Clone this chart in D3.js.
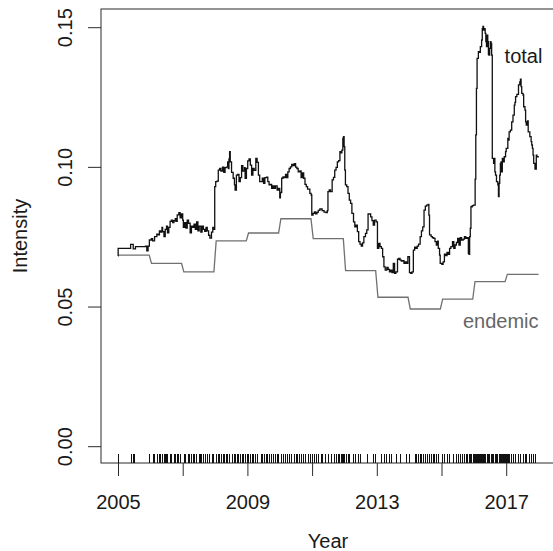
<!DOCTYPE html>
<html lang="en">
<head>
    <meta charset="UTF-8">
    <title>Intensity</title>
    <script src="https://d3js.org/d3.v7.min.js" charset="utf-8"></script>
    <style>
        body {
            margin: 0;
            background: white;
        }
        text {
            font-family: "Liberation Sans", Arial, sans-serif;
            font-size: 20px;
            fill: #1a1a1a;
        }
    </style>
</head>
<body>
<script>
    // total intensity: [year, intensity]
    var totalSeries = [
        [2005.00,0.0683],[2005.005,0.0710],[2005.38,0.0710],[2005.39,0.0724],[2005.45,0.0724],[2005.47,0.0708],
        [2005.54,0.0716],[2005.85,0.0718],[2005.89,0.0701],[2005.93,0.0718],[2005.97,0.0740],[2006.03,0.0745],
        [2006.07,0.0737],[2006.13,0.0752],[2006.20,0.0761],[2006.24,0.0758],[2006.28,0.0773],[2006.32,0.0768],
        [2006.36,0.0785],[2006.38,0.0770],[2006.42,0.0752],[2006.46,0.0778],[2006.50,0.0790],[2006.53,0.0766],
        [2006.57,0.0785],[2006.61,0.0807],[2006.65,0.0811],[2006.69,0.0802],[2006.73,0.0809],[2006.77,0.0816],
        [2006.79,0.0807],[2006.83,0.0830],[2006.88,0.0838],[2006.92,0.0819],[2006.96,0.0833],[2007.00,0.0811],
        [2007.02,0.0785],[2007.06,0.0802],[2007.10,0.0783],[2007.14,0.0811],[2007.18,0.0800],[2007.23,0.0766],
        [2007.27,0.0790],[2007.31,0.0785],[2007.35,0.0797],[2007.39,0.0778],[2007.43,0.0805],[2007.47,0.0773],
        [2007.51,0.0790],[2007.56,0.0768],[2007.60,0.0790],[2007.64,0.0778],[2007.68,0.0771],[2007.72,0.0785],
        [2007.76,0.0773],[2007.80,0.0757],[2007.84,0.0747],[2007.89,0.0768],[2007.93,0.0785],[2007.97,0.0778],
        [2007.99,0.0931],[2008.02,0.0949],[2008.06,0.0951],[2008.10,0.0990],[2008.14,0.0996],[2008.18,0.0987],
        [2008.23,0.1001],[2008.27,0.0982],[2008.31,0.0999],[2008.35,0.1001],[2008.39,0.1020],[2008.41,0.0996],
        [2008.43,0.1030],[2008.45,0.1056],[2008.47,0.1020],[2008.51,0.0982],[2008.56,0.0961],[2008.60,0.0937],
        [2008.62,0.0919],[2008.66,0.0972],[2008.70,0.0975],[2008.74,0.0949],[2008.78,0.0963],[2008.82,0.1006],
        [2008.86,0.0987],[2008.91,0.0999],[2008.93,0.0961],[2008.97,0.0996],[2009.01,0.1023],[2009.05,0.1030],
        [2009.09,0.1008],[2009.13,0.0972],[2009.17,0.0996],[2009.21,0.0989],[2009.26,0.1032],[2009.30,0.1018],
        [2009.34,0.0972],[2009.38,0.0949],[2009.42,0.0949],[2009.46,0.0961],[2009.50,0.0943],[2009.54,0.0963],
        [2009.59,0.0965],[2009.63,0.0949],[2009.67,0.0937],[2009.71,0.0939],[2009.75,0.0925],[2009.79,0.0934],
        [2009.83,0.0925],[2009.87,0.0934],[2009.92,0.0919],[2009.96,0.0925],[2010.00,0.0891],[2010.02,0.0910],
        [2010.06,0.0961],[2010.10,0.0966],[2010.14,0.0963],[2010.18,0.0975],[2010.22,0.0963],[2010.25,0.0984],
        [2010.29,0.0996],[2010.33,0.1002],[2010.37,0.1011],[2010.41,0.1006],[2010.45,0.1013],[2010.49,0.1001],
        [2010.53,0.0996],[2010.57,0.0984],[2010.62,0.0987],[2010.66,0.0963],[2010.70,0.0980],[2010.74,0.0961],
        [2010.78,0.0939],[2010.82,0.0931],[2010.86,0.0922],[2010.93,0.0907],[2010.97,0.0901],[2010.99,0.0829],
        [2011.03,0.0835],[2011.07,0.0841],[2011.11,0.0834],[2011.15,0.0839],[2011.19,0.0846],[2011.24,0.0851],
        [2011.31,0.0845],[2011.37,0.0840],[2011.43,0.0838],[2011.47,0.0845],[2011.49,0.0913],[2011.53,0.0919],
        [2011.57,0.0913],[2011.62,0.0955],[2011.66,0.0964],[2011.70,0.0990],[2011.74,0.1000],[2011.78,0.1020],
        [2011.82,0.1024],[2011.86,0.1056],[2011.90,0.1052],[2011.92,0.1062],[2011.95,0.1104],[2011.97,0.1110],
        [2011.99,0.1074],[2012.01,0.0990],[2012.03,0.0937],[2012.07,0.0931],[2012.11,0.0907],[2012.15,0.0883],
        [2012.19,0.0871],[2012.23,0.0835],[2012.28,0.0805],[2012.32,0.0787],[2012.36,0.0793],[2012.40,0.0770],
        [2012.44,0.0734],[2012.48,0.0725],[2012.52,0.0718],[2012.56,0.0730],[2012.60,0.0752],[2012.65,0.0764],
        [2012.69,0.0776],[2012.73,0.0833],[2012.77,0.0833],[2012.81,0.0823],[2012.85,0.0809],[2012.89,0.0793],
        [2012.93,0.0811],[2012.98,0.0805],[2013.02,0.0710],[2013.06,0.0728],[2013.10,0.0716],[2013.14,0.0710],
        [2013.18,0.0680],[2013.22,0.0644],[2013.26,0.0632],[2013.31,0.0642],[2013.35,0.0635],[2013.39,0.0626],
        [2013.43,0.0632],[2013.47,0.0623],[2013.51,0.0656],[2013.55,0.0621],[2013.59,0.0626],[2013.64,0.0671],
        [2013.68,0.0674],[2013.72,0.0668],[2013.76,0.0664],[2013.80,0.0666],[2013.84,0.0656],[2013.88,0.0662],
        [2013.92,0.0656],[2013.96,0.0680],[2014.01,0.0623],[2014.05,0.0621],[2014.09,0.0626],[2014.13,0.0704],
        [2014.17,0.0714],[2014.21,0.0710],[2014.25,0.0718],[2014.29,0.0725],[2014.34,0.0752],[2014.38,0.0773],
        [2014.42,0.0787],[2014.46,0.0847],[2014.50,0.0861],[2014.54,0.0865],[2014.59,0.0867],[2014.61,0.0829],
        [2014.63,0.0758],[2014.68,0.0752],[2014.72,0.0748],[2014.76,0.0746],[2014.80,0.0734],[2014.84,0.0722],
        [2014.88,0.0736],[2014.90,0.0710],[2014.94,0.0686],[2014.96,0.0656],[2015.01,0.0653],[2015.05,0.0662],
        [2015.09,0.0689],[2015.13,0.0684],[2015.17,0.0696],[2015.21,0.0689],[2015.25,0.0710],[2015.29,0.0716],
        [2015.34,0.0734],[2015.38,0.0710],[2015.42,0.0722],[2015.46,0.0731],[2015.50,0.0746],[2015.54,0.0722],
        [2015.58,0.0748],[2015.62,0.0740],[2015.67,0.0743],[2015.71,0.0752],[2015.75,0.0746],[2015.79,0.0748],
        [2015.83,0.0692],[2015.85,0.0689],[2015.87,0.0752],[2015.89,0.0782],[2015.91,0.0859],[2015.95,0.0863],
        [2015.99,0.0865],[2016.04,0.0958],[2016.06,0.1116],[2016.08,0.1283],[2016.10,0.1390],[2016.14,0.1414],
        [2016.18,0.1412],[2016.20,0.1432],[2016.24,0.1456],[2016.26,0.1497],[2016.28,0.1505],[2016.30,0.1491],
        [2016.32,0.1497],[2016.35,0.1480],[2016.37,0.1450],[2016.39,0.1432],[2016.41,0.1473],[2016.43,0.1450],
        [2016.45,0.1404],[2016.47,0.1402],[2016.49,0.1426],[2016.51,0.1450],[2016.53,0.1444],[2016.55,0.1402],
        [2016.57,0.1032],[2016.61,0.1014],[2016.63,0.1032],[2016.65,0.0984],[2016.67,0.0972],[2016.70,0.0949],
        [2016.74,0.0937],[2016.76,0.0895],[2016.78,0.0943],[2016.80,0.0972],[2016.82,0.1014],[2016.84,0.1020],
        [2016.86,0.0984],[2016.88,0.1032],[2016.92,0.1020],[2016.94,0.1038],[2016.98,0.1056],[2017.00,0.1068],
        [2017.05,0.1104],[2017.07,0.1098],[2017.09,0.1127],[2017.13,0.1133],[2017.17,0.1163],[2017.21,0.1187],
        [2017.25,0.1223],[2017.27,0.1233],[2017.29,0.1253],[2017.33,0.1261],[2017.38,0.1295],[2017.42,0.1306],
        [2017.44,0.1316],[2017.46,0.1289],[2017.48,0.1265],[2017.52,0.1259],[2017.54,0.1217],[2017.58,0.1205],
        [2017.60,0.1163],[2017.62,0.1151],[2017.66,0.1166],[2017.68,0.1127],[2017.73,0.1110],[2017.77,0.1092],
        [2017.79,0.1080],[2017.81,0.1068],[2017.83,0.1044],[2017.85,0.1014],[2017.89,0.0994],[2017.93,0.1044],
        [2017.95,0.1038],[2017.99,0.1041]
    ];

    // endemic (background) level, one value per year
    var endemicYears = [2005, 2006, 2007, 2008, 2009, 2010, 2011, 2012, 2013, 2014, 2015, 2016, 2017];
    var endemicValues = [0.0686, 0.0656, 0.0626, 0.0737, 0.0765, 0.0816, 0.0745, 0.0630, 0.0535, 0.0493, 0.0528, 0.0591, 0.0617];

    // event times shown as a rug along the bottom
    var eventTimes = [
        2005.00,2005.41,2005.46,2005.51,2005.97,2006.07,2006.11,2006.21,2006.26,2006.31,2006.36,2006.41,2006.44,
        2006.49,2006.53,2006.61,2006.65,2006.72,2006.77,2006.81,2006.87,2006.93,2007.03,2007.08,2007.15,2007.20,
        2007.26,2007.31,2007.36,2007.42,2007.49,2007.54,2007.58,2007.64,2007.69,2007.74,2007.81,2007.90,2007.95,
        2008.03,2008.08,2008.13,2008.19,2008.24,2008.28,2008.33,2008.38,2008.43,2008.53,2008.58,2008.62,2008.67,
        2008.72,2008.77,2008.82,2008.86,2008.92,2008.98,2009.02,2009.07,2009.13,2009.18,2009.25,2009.31,2009.41,
        2009.46,2009.51,2009.56,2009.61,2009.68,2009.73,2009.78,2009.86,2009.92,2009.96,2010.03,2010.11,2010.17,
        2010.22,2010.28,2010.36,2010.44,2010.49,2010.54,2010.60,2010.66,2010.72,2010.79,2010.88,2010.93,2010.99,
        2011.05,2011.12,2011.19,2011.26,2011.32,2011.39,2011.50,2011.58,2011.67,2011.75,2011.79,2011.83,2011.88,
        2011.92,2011.96,2012.00,2012.05,2012.10,2012.14,2012.25,2012.32,2012.42,2012.49,2012.70,2012.88,2012.95,
        2013.14,2013.21,2013.29,2013.38,2013.45,2013.58,2013.73,2013.89,2014.01,2014.17,2014.22,2014.27,2014.32,
        2014.37,2014.42,2014.49,2014.55,2014.61,2014.67,2014.73,2014.78,2014.84,2014.90,2015.02,2015.09,2015.16,
        2015.23,2015.37,2015.45,2015.51,2015.58,2015.64,2015.71,2015.76,2015.80,2015.84,2015.88,2015.92,2015.97,
        2016.00,2016.03,2016.06,2016.09,2016.12,2016.15,2016.18,2016.21,2016.24,2016.27,2016.31,2016.36,2016.40,
        2016.44,2016.48,2016.52,2016.56,2016.60,2016.64,2016.69,2016.73,2016.77,2016.81,2016.84,2016.87,2016.91,
        2016.93,2016.96,2016.99,2017.02,2017.06,2017.09,2017.15,2017.22,2017.28,2017.35,2017.42,2017.51,2017.57,
        2017.61,2017.69,2017.76,2017.82,2017.90
    ];

    var xTicks = [2005, 2007, 2009, 2011, 2013, 2015, 2017];
    var xTickLabels = ["2005", "", "2009", "", "2013", "", "2017"];
    var yTicks = [0, 0.05, 0.10, 0.15];
    var yTickLabels = ["0.00", "0.05", "0.10", "0.15"];

    var width = 553;
    var height = 551;
    var box = { left: 101, top: 9, right: 555, bottom: 463 };

    var svg = d3.select("body")
                .append("svg")
                .attr("width", width)
                .attr("height", height);

    var x = d3.scaleLinear().domain([2005, 2017]).range([118, 506.2]);
    var y = d3.scaleLinear().domain([0, 0.15]).range([446.7, 27.7]);

    // plot frame (right side falls just outside the picture)
    svg.append("rect")
        .attr("x", box.left)
        .attr("y", box.top)
        .attr("width", box.right - box.left)
        .attr("height", box.bottom - box.top)
        .attr("fill", "none")
        .attr("stroke", "#2a2a2a")
        .attr("stroke-width", 1);

    // x axis ticks + labels
    var xAxis = d3.axisBottom(x)
        .tickValues(xTicks)
        .tickSize(13)
        .tickSizeOuter(0)
        .tickFormat(function (d, i) { return xTickLabels[i]; });

    var gx = svg.append("g")
        .attr("transform", "translate(0," + box.bottom + ")")
        .call(xAxis);
    gx.select(".domain").remove();
    gx.selectAll("line").attr("stroke", "#2a2a2a");
    gx.selectAll("text")
        .attr("y", 46)
        .attr("dy", null)
        .attr("fill", null);
    gx.attr("font-size", null).attr("font-family", null);

    // y axis ticks
    svg.selectAll(".ytick")
        .data(yTicks)
        .enter()
        .append("line")
        .attr("class", "ytick")
        .attr("x1", box.left - 13)
        .attr("x2", box.left)
        .attr("y1", function (d) { return y(d); })
        .attr("y2", function (d) { return y(d); })
        .attr("stroke", "#2a2a2a");

    // y tick labels, rotated like in R
    svg.selectAll(".ylab")
        .data(yTicks)
        .enter()
        .append("text")
        .attr("class", "ylab")
        .attr("text-anchor", "middle")
        .attr("transform", function (d) { return "translate(71.5," + y(d) + ") rotate(-90)"; })
        .text(function (d, i) { return yTickLabels[i]; });

    // axis titles
    svg.append("text")
        .attr("text-anchor", "middle")
        .attr("x", (box.left + box.right) / 2)
        .attr("y", 548)
        .text("Year");

    svg.append("text")
        .attr("text-anchor", "middle")
        .attr("transform", "translate(27," + (box.top + box.bottom) / 2 + ") rotate(-90)")
        .text("Intensity");

    // rug of event times
    svg.selectAll(".rug")
        .data(eventTimes)
        .enter()
        .append("line")
        .attr("class", "rug")
        .attr("x1", function (d) { return Math.round(x(d)) + 0.5; })
        .attr("x2", function (d) { return Math.round(x(d)) + 0.5; })
        .attr("y1", box.bottom)
        .attr("y2", box.bottom - 9)
        .attr("stroke", "#111")
        .attr("stroke-width", 1);

    // endemic step line: level per year, short ramp between years
    var ramp = 0.035;
    var endemicPts = [[endemicYears[0], endemicValues[0]]];
    endemicYears.forEach(function (yr, i) {
        if (i > 0) endemicPts.push([yr + ramp, endemicValues[i]]);
        var end = (i === endemicYears.length - 1) ? yr + 1 : yr + 1 - ramp;
        endemicPts.push([end, endemicValues[i]]);
    });

    var line = d3.line()
        .x(function (d) { return x(d[0]); })
        .y(function (d) { return y(d[1]); });

    svg.append("path")
        .datum(endemicPts)
        .attr("fill", "none")
        .attr("stroke", "#707070")
        .attr("stroke-width", 1.3)
        .attr("d", line);

    // total jumps at events, so draw it as a step curve
    var stepLine = d3.line()
        .curve(d3.curveStepAfter)
        .x(function (d) { return x(d[0]); })
        .y(function (d) { return y(d[1]); });

    svg.append("path")
        .datum(totalSeries)
        .attr("fill", "none")
        .attr("stroke", "#111")
        .attr("stroke-width", 1.3)
        .attr("d", stepLine);

    // series labels
    svg.append("text")
        .attr("x", x(2016.95))
        .attr("y", y(0.1375))
        .text("total");

    svg.append("text")
        .attr("text-anchor", "end")
        .attr("x", x(2018))
        .attr("y", y(0.0425))
        .style("fill", "#666")
        .text("endemic");
</script>
</body>
</html>
